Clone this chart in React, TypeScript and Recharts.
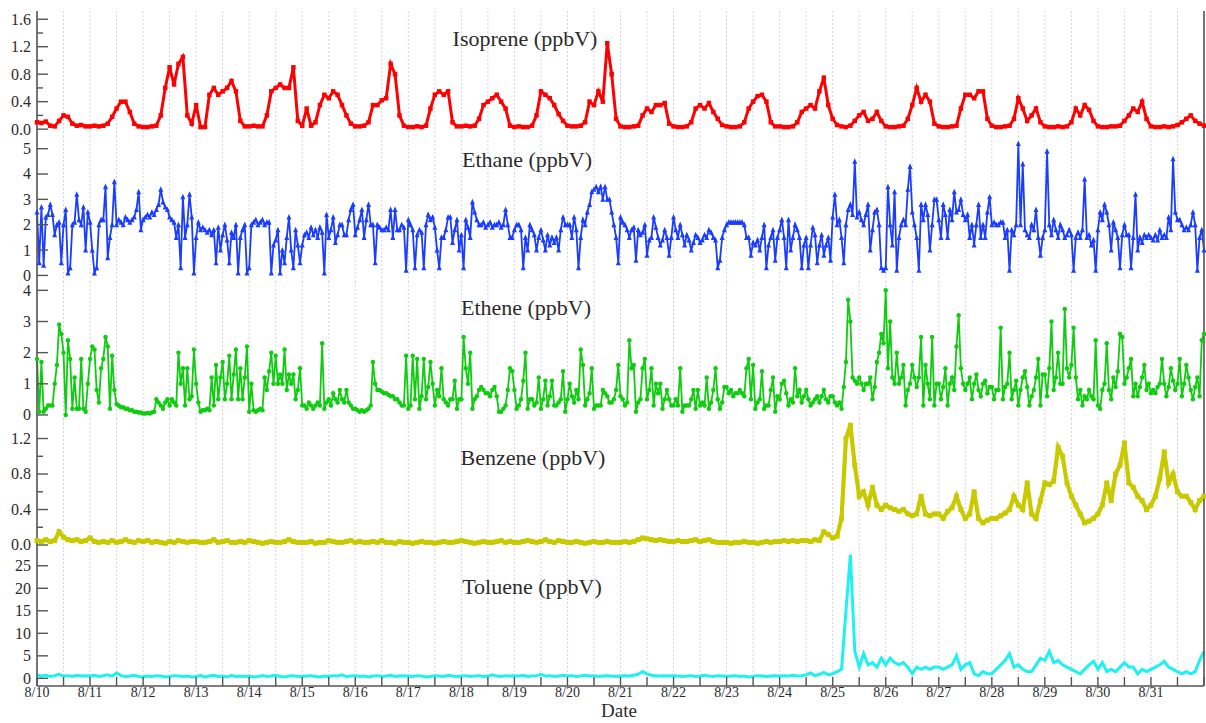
import React from 'react';
import { LineChart, Line, XAxis, YAxis, CartesianGrid } from 'recharts';

// Sampling: isoprene, benzene and toluene every 2 h; ethane and ethene hourly.
// Time runs from 8/10 00:00 to 9/1 00:00.
const TWO_HOURLY = 12;
const HOURLY = 24;
const DATE_LABELS = [
  '8/10', '8/11', '8/12', '8/13', '8/14', '8/15', '8/16', '8/17', '8/18', '8/19', '8/20',
  '8/21', '8/22', '8/23', '8/24', '8/25', '8/26', '8/27', '8/28', '8/29', '8/30', '8/31',
];

const ISOPRENE = [
  0.10, 0.09, 0.11, 0.05, 0.04, 0.12, 0.20, 0.18, 0.08, 0.05, 0.06, 0.04,
  0.04, 0.05, 0.04, 0.05, 0.08, 0.18, 0.30, 0.40, 0.40, 0.25, 0.08, 0.04,
  0.03, 0.03, 0.04, 0.05, 0.20, 0.60, 0.90, 0.65, 0.95, 1.05, 0.20, 0.08,
  0.35, 0.03, 0.03, 0.50, 0.60, 0.50, 0.55, 0.60, 0.70, 0.55, 0.12, 0.04,
  0.04, 0.05, 0.04, 0.04, 0.20, 0.55, 0.60, 0.65, 0.60, 0.60, 0.90, 0.12,
  0.05, 0.30, 0.05, 0.10, 0.35, 0.50, 0.45, 0.55, 0.50, 0.35, 0.20, 0.08,
  0.04, 0.04, 0.05, 0.10, 0.35, 0.35, 0.42, 0.45, 0.95, 0.80, 0.20, 0.05,
  0.03, 0.03, 0.04, 0.03, 0.05, 0.30, 0.50, 0.55, 0.50, 0.55, 0.10, 0.04,
  0.04, 0.05, 0.04, 0.05, 0.15, 0.35, 0.40, 0.45, 0.50, 0.40, 0.30, 0.05,
  0.03, 0.04, 0.03, 0.03, 0.05, 0.20, 0.55, 0.50, 0.45, 0.35, 0.22, 0.12,
  0.05, 0.04, 0.04, 0.05, 0.10, 0.40, 0.35, 0.55, 0.40, 1.25, 0.80, 0.15,
  0.04, 0.03, 0.03, 0.04, 0.05, 0.20, 0.30, 0.25, 0.35, 0.35, 0.38, 0.08,
  0.04, 0.03, 0.03, 0.04, 0.10, 0.30, 0.35, 0.30, 0.38, 0.25, 0.15, 0.06,
  0.04, 0.03, 0.03, 0.04, 0.10, 0.30, 0.40, 0.48, 0.50, 0.40, 0.10, 0.04,
  0.04, 0.03, 0.03, 0.04, 0.10, 0.25, 0.30, 0.35, 0.30, 0.55, 0.75, 0.35,
  0.15, 0.06, 0.04, 0.03, 0.05, 0.12, 0.20, 0.25, 0.12, 0.15, 0.25, 0.12,
  0.04, 0.03, 0.03, 0.04, 0.05, 0.15, 0.35, 0.60, 0.40, 0.50, 0.40, 0.08,
  0.04, 0.03, 0.03, 0.04, 0.05, 0.30, 0.50, 0.50, 0.45, 0.55, 0.55, 0.15,
  0.05, 0.03, 0.03, 0.04, 0.05, 0.15, 0.45, 0.30, 0.12, 0.20, 0.30, 0.10,
  0.04, 0.03, 0.03, 0.04, 0.03, 0.04, 0.10, 0.30, 0.20, 0.35, 0.28, 0.12,
  0.04, 0.03, 0.03, 0.04, 0.04, 0.05, 0.12, 0.20, 0.30, 0.25, 0.40, 0.15,
  0.04, 0.03, 0.03, 0.04, 0.03, 0.04, 0.06, 0.10, 0.15, 0.20, 0.12, 0.08,
  0.05,
];

const ETHANE = [
  2.5, 0.5, 2.7, 0.4, 2.3, 2.4, 2.8, 2.4, 1.6, 2.0, 2.1, 0.5, 2.0, 2.6, 0.1, 0.3, 2.0, 2.1, 3.2, 2.2, 2.0, 2.7, 1.0, 2.5,
  2.1, 1.0, 0.1, 0.3, 2.0, 2.2, 2.2, 3.5, 0.7, 1.5, 2.0, 3.7, 2.0, 2.2, 2.1, 2.0, 2.3, 2.2, 2.1, 2.2, 2.3, 2.6, 3.3, 1.8,
  2.2, 2.3, 2.4, 2.3, 2.5, 2.4, 2.6, 2.8, 3.4, 2.9, 2.7, 2.6, 2.3, 2.2, 2.1, 1.5, 2.0, 0.3, 3.1, 1.5, 2.0, 3.2, 2.3, 0.1,
  1.5, 2.1, 1.8, 1.9, 1.8, 1.7, 1.8, 1.6, 1.8, 0.5, 1.9, 1.0, 1.6, 2.0, 1.4, 0.5, 1.7, 1.5, 2.0, 0.1, 1.5, 1.8, 2.0, 0.1,
  0.3, 2.0, 2.1, 2.2, 2.0, 2.1, 2.2, 2.0, 2.1, 2.1, 0.1, 1.2, 1.4, 1.8, 0.1, 1.0, 0.5, 1.5, 2.3, 1.0, 0.3, 1.8, 1.2, 0.5,
  1.2, 1.6, 1.7, 1.5, 1.9, 1.6, 1.8, 1.5, 1.9, 1.7, 0.1, 2.4, 1.5, 1.8, 2.3, 1.3, 1.6, 2.0, 2.0, 1.6, 1.6, 2.2, 2.6, 2.8,
  1.6, 1.9, 2.2, 2.6, 1.5, 2.2, 2.8, 2.0, 2.0, 0.5, 2.0, 1.9, 1.8, 1.8, 1.9, 1.8, 2.6, 1.5, 2.6, 1.8, 1.8, 2.0, 1.9, 0.2,
  2.2, 2.0, 1.8, 0.3, 1.6, 1.8, 1.7, 0.3, 2.0, 2.4, 2.2, 2.3, 1.9, 1.0, 0.3, 1.5, 1.5, 1.8, 2.3, 2.3, 1.3, 1.8, 2.2, 1.0,
  1.6, 0.3, 2.2, 1.9, 1.5, 2.9, 2.5, 2.2, 2.0, 2.0, 2.1, 1.9, 2.0, 2.1, 1.9, 2.0, 2.0, 2.1, 1.9, 2.0, 2.6, 2.0, 1.5, 1.5,
  1.8, 2.0, 2.0, 1.8, 0.3, 1.5, 1.0, 2.0, 1.8, 1.6, 1.0, 1.5, 1.8, 1.4, 1.0, 1.6, 1.2, 1.5, 1.3, 1.5, 1.0, 1.8, 2.3, 2.0,
  2.0, 2.0, 1.5, 2.3, 1.8, 0.3, 1.5, 2.2, 2.0, 2.5, 2.8, 3.3, 3.4, 3.5, 3.3, 3.5, 3.0, 3.5, 3.0, 3.0, 2.5, 2.0, 1.5, 0.5,
  2.3, 2.1, 2.0, 1.8, 1.5, 1.8, 1.9, 0.6, 1.8, 1.6, 1.7, 2.0, 0.8, 1.4, 1.5, 2.3, 1.9, 1.5, 1.2, 1.4, 1.8, 1.5, 0.8, 1.5,
  2.3, 1.8, 1.5, 2.0, 1.6, 1.2, 1.6, 1.4, 1.0, 1.3, 1.6, 1.5, 1.3, 1.4, 1.6, 1.5, 1.8, 1.7, 1.5, 1.4, 0.3, 0.6, 1.5, 1.8,
  2.0, 2.1, 2.1, 2.1, 2.1, 2.1, 2.1, 2.1, 2.0, 1.5, 1.5, 0.8, 1.3, 1.2, 1.4, 1.0, 1.5, 2.0, 0.3, 1.2, 1.5, 1.8, 0.6, 1.5,
  1.8, 2.2, 1.5, 0.3, 2.2, 1.0, 1.5, 2.0, 1.8, 1.5, 0.3, 1.2, 1.5, 0.3, 1.2, 1.9, 1.6, 0.5, 1.2, 1.6, 0.8, 1.2, 1.5, 0.6,
  2.3, 3.2, 2.0, 2.2, 1.5, 0.5, 2.0, 2.6, 2.8, 2.4, 4.5, 2.3, 2.5, 2.2, 2.0, 2.4, 2.8, 1.0, 1.8, 2.5, 2.6, 2.0, 0.3, 0.2,
  0.3, 3.5, 2.0, 1.2, 3.3, 0.2, 1.5, 2.0, 2.2, 2.0, 3.4, 4.3, 2.5, 2.0, 1.5, 0.2, 2.8, 2.2, 2.8, 2.4, 1.0, 2.0, 3.0, 3.0,
  2.2, 1.5, 2.8, 2.4, 1.5, 2.6, 2.2, 3.3, 2.5, 2.6, 3.0, 2.4, 2.2, 2.4, 1.5, 2.0, 1.2, 2.0, 2.8, 1.5, 2.0, 1.5, 2.5, 3.1,
  2.0, 2.1, 2.0, 2.0, 2.1, 2.1, 1.5, 1.8, 0.2, 1.8, 1.6, 2.0, 5.2, 2.0, 4.4, 1.8, 1.6, 1.5, 2.0, 1.8, 2.6, 1.5, 0.8, 1.5,
  1.8, 4.9, 2.0, 1.6, 2.2, 1.8, 1.5, 2.0, 1.8, 1.5, 1.6, 1.8, 1.6, 0.2, 1.5, 1.7, 1.5, 1.8, 3.8, 1.5, 1.6, 1.2, 1.4, 0.2,
  1.8, 2.5, 2.2, 2.8, 2.5, 2.0, 1.0, 2.1, 1.8, 1.5, 0.3, 1.6, 2.0, 1.6, 1.6, 0.3, 1.5, 3.2, 1.0, 1.5, 1.3, 1.6, 1.5, 1.6,
  1.5, 1.4, 1.6, 1.4, 1.8, 1.5, 1.6, 1.5, 2.3, 1.8, 4.6, 2.5, 2.2, 2.2, 2.0, 1.8, 1.9, 1.8, 2.0, 2.5, 2.0, 0.2, 1.5, 1.8,
  1.0,
];

const ETHENE = [
  1.8, 0.1, 1.7, 0.1, 0.2, 0.3, 0.3, 0.3, 1.0, 1.6, 2.9, 2.6, 2.0, 0.0, 2.4, 1.8, 0.2, 1.2, 0.2, 0.2, 1.8, 0.2, 0.1, 1.0,
  1.8, 2.2, 2.1, 0.8, 0.4, 1.5, 1.8, 2.5, 2.2, 0.2, 1.9, 0.8, 0.35, 0.3, 0.25, 0.25, 0.2, 0.2, 0.15, 0.15, 0.1, 0.1, 0.08, 0.08,
  0.05, 0.05, 0.06, 0.05, 0.08, 0.1, 0.5, 0.4, 0.3, 0.2, 0.4, 0.5, 0.3, 0.5, 0.4, 0.3, 2.0, 1.0, 1.5, 0.3, 1.5, 0.5, 0.6, 2.1,
  1.0, 0.4, 0.1, 0.15, 0.15, 0.2, 0.15, 1.2, 0.3, 1.6, 0.5, 1.2, 1.7, 0.5, 1.0, 1.9, 0.5, 1.3, 2.1, 0.5, 1.5, 0.5, 1.2, 2.2,
  0.1, 1.0, 0.15, 0.1, 0.15, 0.2, 0.15, 1.2, 0.8, 1.4, 2.0, 1.0, 1.9, 1.0, 1.3, 1.0, 2.1, 0.8, 1.3, 1.0, 1.3, 0.5, 0.8, 1.5,
  0.3, 0.3, 0.2, 0.4, 0.3, 0.2, 0.3, 0.4, 0.3, 2.3, 0.2, 0.4, 0.5, 0.3, 0.7, 0.5, 0.4, 0.8, 0.5, 0.4, 0.8, 0.4, 0.3, 0.2,
  0.2, 0.15, 0.1, 0.15, 0.1, 0.15, 0.2, 0.3, 1.7, 1.0, 0.8, 0.8, 0.75, 0.7, 0.7, 0.65, 0.6, 0.6, 0.5, 0.5, 0.4, 0.3, 0.3, 1.9,
  0.2, 0.3, 1.9, 0.5, 1.8, 0.2, 0.6, 1.8, 0.5, 0.9, 1.7, 1.0, 0.3, 0.8, 0.6, 1.5, 0.5, 0.4, 0.3, 0.5, 0.5, 1.1, 0.2, 0.5,
  0.5, 2.5, 1.5, 1.0, 2.0, 0.2, 0.5, 0.6, 0.8, 0.9, 0.8, 0.7, 0.7, 0.6, 0.8, 0.9, 0.6, 0.1, 0.1, 0.2, 0.3, 0.8, 1.5, 1.4,
  0.8, 0.2, 0.3, 0.5, 1.1, 2.0, 0.2, 0.5, 0.5, 0.3, 0.4, 1.2, 0.2, 0.5, 1.1, 0.3, 0.6, 1.1, 0.3, 0.3, 0.4, 0.5, 1.4, 0.1,
  0.5, 1.0, 0.6, 0.4, 0.8, 0.5, 2.1, 1.6, 0.3, 0.5, 0.7, 1.5, 0.2, 0.3, 0.3, 0.3, 0.8, 0.7, 0.6, 0.4, 0.4, 0.5, 0.8, 1.6,
  0.6, 0.5, 0.3, 0.4, 2.4, 1.5, 1.6, 0.1, 0.4, 0.5, 1.5, 1.8, 0.5, 0.8, 1.5, 0.3, 1.0, 0.7, 1.0, 0.2, 0.5, 0.8, 0.5, 0.3,
  0.3, 0.5, 0.3, 1.5, 0.1, 0.3, 0.3, 0.3, 0.5, 0.8, 0.2, 0.8, 0.3, 0.4, 0.3, 1.2, 0.2, 0.4, 0.8, 1.5, 0.5, 0.2, 0.4, 0.9,
  0.9, 0.7, 0.8, 0.6, 0.7, 0.7, 0.8, 0.7, 0.6, 1.5, 1.8, 0.5, 1.6, 0.2, 0.4, 0.5, 1.4, 0.2, 0.3, 0.3, 0.8, 1.2, 0.1, 0.6,
  0.5, 1.0, 1.1, 0.7, 0.3, 0.5, 0.4, 1.5, 0.6, 0.8, 0.4, 0.6, 0.8, 0.5, 0.3, 0.4, 0.5, 0.6, 0.4, 0.6, 0.8, 0.5, 0.4, 0.6,
  0.6, 0.4, 0.3, 0.4, 0.2, 0.9, 1.7, 3.7, 3.0, 1.2, 1.1, 1.0, 1.2, 1.0, 0.8, 1.0, 1.0, 1.2, 0.5, 0.9, 1.7, 2.0, 2.6, 2.3,
  4.0, 1.5, 3.0, 1.2, 1.0, 2.0, 1.0, 1.2, 1.6, 0.3, 0.8, 1.0, 1.6, 1.2, 0.9, 1.2, 2.5, 0.3, 1.6, 1.0, 0.5, 2.5, 0.3, 1.0,
  1.0, 0.5, 0.9, 1.5, 0.3, 1.0, 1.2, 0.8, 2.2, 3.2, 1.5, 1.0, 0.8, 1.0, 1.2, 0.5, 1.0, 1.3, 0.8, 0.6, 1.0, 1.1, 0.7, 0.9,
  0.9, 0.5, 0.8, 0.8, 2.8, 0.5, 0.9, 1.0, 2.0, 0.5, 0.8, 1.1, 0.3, 0.8, 1.2, 1.4, 0.9, 0.3, 0.6, 0.8, 1.2, 1.8, 0.3, 1.3,
  1.3, 0.6, 1.5, 3.0, 0.8, 1.2, 2.0, 1.0, 1.0, 3.4, 1.5, 1.2, 1.6, 2.8, 1.2, 0.5, 0.8, 0.3, 0.6, 0.5, 0.8, 0.6, 0.5, 2.4,
  0.3, 0.2, 0.8, 1.0, 2.3, 0.8, 0.5, 1.2, 0.9, 1.4, 2.6, 2.5, 1.0, 1.2, 1.5, 1.8, 0.6, 1.0, 0.6, 0.9, 1.2, 1.6, 0.8, 1.0,
  0.7, 0.8, 0.7, 0.9, 1.0, 1.8, 1.0, 0.6, 0.9, 1.5, 1.1, 0.8, 1.0, 1.8, 0.6, 1.0, 1.6, 1.2, 0.8, 0.5, 0.9, 1.2, 0.6, 2.4,
  2.6,
];

const BENZENE = [
  0.05, 0.04, 0.06, 0.04, 0.05, 0.15, 0.09, 0.06, 0.05, 0.06, 0.04, 0.05,
  0.08, 0.04, 0.03, 0.04, 0.03, 0.05, 0.03, 0.04, 0.06, 0.04, 0.03, 0.05,
  0.04, 0.05, 0.03, 0.04, 0.03, 0.02, 0.04, 0.03, 0.05, 0.04, 0.03, 0.04,
  0.04, 0.03, 0.03, 0.04, 0.06, 0.03, 0.04, 0.05, 0.03, 0.03, 0.04, 0.03,
  0.05, 0.04, 0.03, 0.02, 0.03, 0.04, 0.03, 0.03, 0.04, 0.06, 0.04, 0.03,
  0.03, 0.03, 0.04, 0.02, 0.03, 0.03, 0.05, 0.04, 0.03, 0.03, 0.04, 0.05,
  0.03, 0.04, 0.03, 0.03, 0.04, 0.03, 0.05, 0.03, 0.03, 0.02, 0.04, 0.03,
  0.03, 0.02, 0.03, 0.04, 0.03, 0.03, 0.02, 0.03, 0.04, 0.03, 0.03, 0.04,
  0.05, 0.04, 0.03, 0.02, 0.03, 0.04, 0.03, 0.03, 0.04, 0.05, 0.03, 0.04,
  0.03, 0.03, 0.04, 0.05, 0.04, 0.03, 0.04, 0.06, 0.04, 0.03, 0.05, 0.04,
  0.03, 0.03, 0.04, 0.03, 0.02, 0.03, 0.04, 0.03, 0.03, 0.04, 0.03, 0.03,
  0.03, 0.04, 0.03, 0.04, 0.06, 0.08, 0.07, 0.06, 0.05, 0.06, 0.05, 0.04,
  0.04, 0.05, 0.04, 0.04, 0.05, 0.06, 0.04, 0.05, 0.06, 0.04, 0.03, 0.03,
  0.03, 0.02, 0.03, 0.03, 0.04, 0.03, 0.03, 0.02, 0.03, 0.04, 0.03, 0.04,
  0.04, 0.05, 0.04, 0.05, 0.04, 0.05, 0.05, 0.04, 0.06, 0.05, 0.15, 0.12,
  0.08, 0.10, 0.30, 1.20, 1.35, 0.90, 0.55, 0.60, 0.45, 0.65, 0.45, 0.40,
  0.45, 0.42, 0.40, 0.38, 0.40, 0.35, 0.33, 0.35, 0.55, 0.35, 0.33, 0.35,
  0.35, 0.30, 0.38, 0.42, 0.55, 0.40, 0.30, 0.35, 0.60, 0.30, 0.25, 0.28,
  0.30, 0.30, 0.33, 0.36, 0.40, 0.55, 0.45, 0.40, 0.70, 0.35, 0.30, 0.50,
  0.70, 0.68, 0.72, 1.10, 1.00, 0.70, 0.55, 0.45, 0.35, 0.25, 0.27, 0.30,
  0.35, 0.45, 0.70, 0.50, 0.80, 0.90, 1.15, 0.70, 0.65, 0.55, 0.50, 0.40,
  0.45, 0.55, 0.75, 1.05, 0.70, 0.80, 0.60, 0.55, 0.55, 0.48, 0.40, 0.50,
  0.55,
];

const TOLUENE = [
  0.8, 0.5, 0.7, 0.4, 0.6, 0.9, 0.5, 0.6, 0.4, 0.7, 0.5, 0.6,
  0.5, 0.7, 0.4, 0.6, 0.8, 0.5, 1.2, 0.6, 0.4, 0.5, 0.7, 0.4,
  0.3, 0.5, 0.4, 0.6, 0.5, 0.3, 0.4, 0.6, 0.5, 0.4, 0.5, 0.3,
  0.4, 0.6, 0.3, 0.5, 0.7, 0.4, 0.5, 0.3, 0.6, 0.4, 0.5, 0.4,
  0.5, 0.3, 0.4, 0.6, 0.4, 0.5, 0.7, 0.4, 0.3, 0.5, 0.6, 0.4,
  0.4, 0.5, 0.6, 0.4, 0.3, 0.5, 0.4, 0.6, 0.5, 0.8, 0.4, 0.5,
  0.6, 0.4, 0.5, 0.3, 0.5, 0.6, 0.4, 0.5, 0.7, 0.4, 0.5, 0.6,
  0.5, 0.4, 0.6, 0.5, 0.3, 0.4, 0.6, 0.5, 0.4, 0.7, 0.5, 0.4,
  0.5, 0.6, 0.4, 0.5, 0.6, 0.4, 0.5, 0.8, 0.5, 0.4, 0.6, 0.5,
  0.6, 0.5, 0.7, 0.4, 0.5, 0.6, 0.9, 0.5, 0.6, 0.4, 0.5, 0.7,
  0.5, 0.6, 0.4, 0.5, 0.7, 0.5, 0.6, 0.4, 0.5, 0.6, 0.5, 0.4,
  0.5, 0.6, 0.5, 0.7, 0.9, 1.5, 1.0, 0.7, 0.6, 0.5, 0.6, 0.5,
  0.6, 0.5, 0.4, 0.5, 0.6, 0.4, 0.5, 0.7, 0.5, 0.4, 0.6, 0.5,
  0.4, 0.5, 0.6, 0.4, 0.5, 0.3, 0.4, 0.6, 0.5, 0.4, 0.5, 0.6,
  0.5, 0.6, 0.5, 0.7, 0.5, 0.6, 0.8, 1.2, 0.6, 0.9, 1.3, 0.8,
  1.0, 1.5, 2.0, 15.0, 27.5, 6.0, 2.5, 5.5, 3.0, 3.5, 2.5, 4.5,
  3.0, 4.5, 3.5, 3.0, 3.5, 2.5, 1.0, 2.5, 2.0, 2.5, 2.0, 2.5,
  2.5, 2.0, 2.5, 3.0, 5.0, 2.0, 3.0, 3.5, 1.0, 0.6, 1.5, 1.0,
  1.0, 2.0, 3.0, 4.0, 5.5, 2.5, 3.0, 2.0, 1.5, 1.5, 3.0, 4.5,
  4.0, 6.0, 3.5, 4.0, 3.0, 2.5, 2.0, 1.5, 1.0, 2.0, 3.0, 3.8,
  2.0, 3.5, 1.5, 2.0, 1.5, 2.5, 3.5, 2.5, 2.5, 1.0, 2.0, 1.5,
  2.0, 2.5, 3.0, 3.8, 2.5, 2.0, 1.5, 1.0, 1.5, 1.0, 1.5, 4.0,
  6.0,
];

const ISOPRENE_TICKS = [0, 0.4, 0.8, 1.2, 1.6];
const ISOPRENE_MINOR = [0.2, 0.6, 1.0, 1.4];
const ETHANE_TICKS = [0, 1, 2, 3, 4, 5];
const ETHENE_TICKS = [0, 1, 2, 3, 4];
const BENZENE_TICKS = [0, 0.4, 0.8, 1.2];
const BENZENE_MINOR = [0.2, 0.6, 1.0];
const TOLUENE_TICKS = [0, 5, 10, 15, 20, 25];

const TOTAL_DAYS = DATE_LABELS.length;
const HALF_DAY_TICKS = Array.from({ length: TOTAL_DAYS * 2 + 1 }, (_, i) => i / 2);

const toRows = (values: number[], perDay: number) =>
  values.map((v, i) => ({ t: i / perDay, v }));

const FONT = '"Liberation Serif", "Times New Roman", serif';
const FRAME = '#555555';
const GRID = '#d2d3ec';
const TEXT = '#2b2b2b';
const WIDTH = 1206;
const Y_AXIS_W = 37;
const PAD = 12;

type Marker = 'square' | 'triangle' | 'circle' | 'none';

function makeDot(shape: Marker, size: number, color: string) {
  if (shape === 'none') return false;
  return (props: any) => {
    const { cx, cy, index } = props;
    const key = `m${index}`;
    if (cx == null || cy == null) return <g key={key} />;
    const h = size / 2;
    if (shape === 'square') {
      return <rect key={key} x={cx - h} y={cy - h} width={size} height={size} fill={color} />;
    }
    if (shape === 'triangle') {
      return (
        <polygon
          key={key}
          points={`${cx},${cy - h - 0.6} ${cx - h},${cy + h} ${cx + h},${cy + h}`}
          fill={color}
        />
      );
    }
    return <circle key={key} cx={cx} cy={cy} r={h} fill={color} />;
  };
}

function BottomTick(props: any) {
  const { x, y, payload, showDates } = props;
  const v = payload.value as number;
  const isDay = Number.isInteger(v);
  return (
    <g>
      <line x1={x} x2={x} y1={y} y2={y - 9} stroke={FRAME} strokeWidth={1.4} />
      {showDates && isDay && v < TOTAL_DAYS && (
        <text x={x} y={y + 11} textAnchor="middle" fontFamily={FONT} fontSize={14} fill={TEXT}>
          {DATE_LABELS[v]}
        </text>
      )}
    </g>
  );
}

function TopTick(props: any) {
  const { x, y } = props;
  return <line x1={x} x2={x} y1={y} y2={y + 9} stroke={FRAME} strokeWidth={1.4} />;
}

function LeftTick(props: any) {
  const { x, y, payload, major, decimals } = props;
  const v = payload.value as number;
  const isMajor = (major as number[]).some((m) => Math.abs(m - v) < 1e-9);
  return (
    <g>
      <line x1={x} x2={x + (isMajor ? 11 : 6)} y1={y} y2={y} stroke={FRAME} strokeWidth={1.4} />
      {isMajor && (
        <text
          x={x - 6}
          y={y}
          dy="0.34em"
          textAnchor="end"
          fontFamily={FONT}
          fontSize={16}
          fill={TEXT}
        >
          {v.toFixed(decimals)}
        </text>
      )}
    </g>
  );
}

type PanelProps = {
  top: number;
  bottom: number;
  values: number[];
  perDay: number;
  color: string;
  domain: [number, number];
  majorTicks: number[];
  minorTicks?: number[];
  decimals: number;
  marker: Marker;
  markerSize: number;
  strokeWidth: number;
  showDates?: boolean;
};

function Panel(p: PanelProps) {
  const axisH = p.showDates ? 37 : 0;
  const plotH = p.bottom - p.top;
  const yTicks = [...p.majorTicks, ...(p.minorTicks ?? [])].sort((a, b) => a - b);
  const frame = { stroke: FRAME, strokeWidth: 1.6 };
  const data = toRows(p.values, p.perDay);
  return (
    <div style={{ position: 'absolute', left: 0, top: p.top - PAD }}>
      <LineChart
        width={WIDTH}
        height={PAD + plotH + (p.showDates ? axisH : PAD)}
        data={data}
        margin={{ top: PAD, right: 1, bottom: p.showDates ? 0 : PAD, left: 0 }}
      >
        <CartesianGrid horizontal={false} stroke={GRID} strokeDasharray="2 2" />
        <XAxis
          dataKey="t"
          type="number"
          domain={[0, TOTAL_DAYS]}
          ticks={HALF_DAY_TICKS}
          interval={0}
          height={axisH}
          tickSize={0}
          tickMargin={0}
          tickLine={false}
          axisLine={frame}
          tick={(tp: any) => <BottomTick {...tp} showDates={p.showDates} />}
        />
        <XAxis
          xAxisId="top"
          orientation="top"
          dataKey="t"
          type="number"
          domain={[0, TOTAL_DAYS]}
          ticks={HALF_DAY_TICKS}
          interval={0}
          height={0}
          tickSize={0}
          tickMargin={0}
          tickLine={false}
          axisLine={frame}
          tick={(tp: any) => <TopTick {...tp} />}
        />
        <YAxis
          type="number"
          domain={p.domain}
          ticks={yTicks}
          interval={0}
          width={Y_AXIS_W}
          tickSize={0}
          tickMargin={0}
          tickLine={false}
          axisLine={frame}
          tick={(tp: any) => <LeftTick {...tp} major={p.majorTicks} decimals={p.decimals} />}
        />
        <YAxis
          yAxisId="right"
          orientation="right"
          type="number"
          domain={p.domain}
          width={1}
          tick={false}
          tickLine={false}
          axisLine={frame}
        />
        <Line
          type="linear"
          dataKey="v"
          stroke={p.color}
          strokeWidth={p.strokeWidth}
          dot={makeDot(p.marker, p.markerSize, p.color) as any}
          activeDot={false}
          isAnimationActive={false}
        />
      </LineChart>
    </div>
  );
}

export default function App() {
  return (
    <div
      style={{
        position: 'absolute',
        left: 0,
        top: 0,
        width: WIDTH,
        height: 723,
        background: '#ffffff',
        overflow: 'hidden',
      }}
    >
      <Panel
        top={11}
        bottom={136}
        values={ISOPRENE}
        perDay={TWO_HOURLY}
        color="#ff0000"
        domain={[-0.1, 1.72]}
        majorTicks={ISOPRENE_TICKS}
        minorTicks={ISOPRENE_MINOR}
        decimals={1}
        marker="square"
        markerSize={4.5}
        strokeWidth={3}
      />
      <Panel
        top={136}
        bottom={281}
        values={ETHANE}
        perDay={HOURLY}
        color="#1a3dff"
        domain={[-0.22, 5.5]}
        majorTicks={ETHANE_TICKS}
        decimals={0}
        marker="triangle"
        markerSize={5}
        strokeWidth={1.8}
      />
      <Panel
        top={281}
        bottom={419}
        values={ETHENE}
        perDay={HOURLY}
        color="#10cc10"
        domain={[-0.13, 4.3]}
        majorTicks={ETHENE_TICKS}
        decimals={0}
        marker="circle"
        markerSize={4.5}
        strokeWidth={1.8}
      />
      <Panel
        top={419}
        bottom={550}
        values={BENZENE}
        perDay={TWO_HOURLY}
        color="#c9c900"
        domain={[-0.056, 1.42]}
        majorTicks={BENZENE_TICKS}
        minorTicks={BENZENE_MINOR}
        decimals={1}
        marker="square"
        markerSize={5}
        strokeWidth={4.2}
      />
      <Panel
        top={550}
        bottom={686}
        values={TOLUENE}
        perDay={TWO_HOURLY}
        color="#1ff0f0"
        domain={[-1.7, 28.5]}
        majorTicks={TOLUENE_TICKS}
        decimals={0}
        marker="none"
        markerSize={0}
        strokeWidth={3}
        showDates
      />
      <svg
        width={WIDTH}
        height={723}
        style={{ position: 'absolute', left: 0, top: 0, pointerEvents: 'none' }}
      >
        <g fontFamily={FONT} fontSize={22} fill={TEXT} textAnchor="middle">
          <text x={525} y={46}>Isoprene (ppbV)</text>
          <text x={527} y={167}>Ethane (ppbV)</text>
          <text x={526} y={315}>Ethene (ppbV)</text>
          <text x={533} y={465}>Benzene (ppbV)</text>
          <text x={532} y={594}>Toluene (ppbV)</text>
          <text x={619} y={717} fontSize={19}>Date</text>
        </g>
      </svg>
    </div>
  );
}
